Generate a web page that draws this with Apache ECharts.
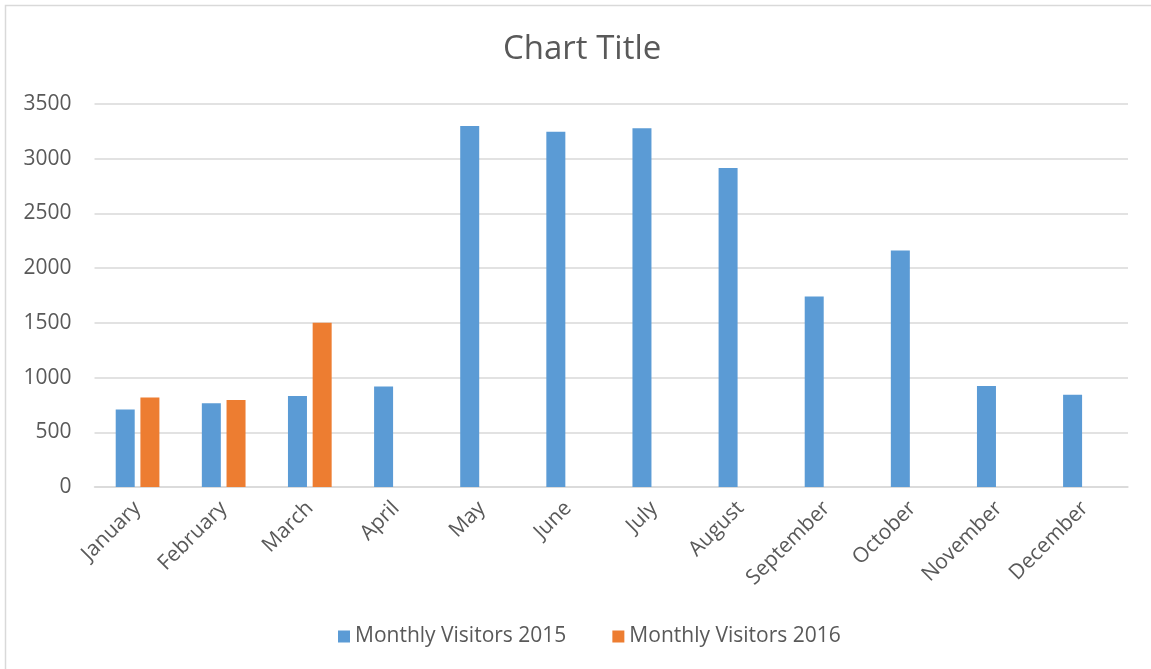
<!DOCTYPE html>
<html>
<head>
<meta charset="utf-8">
<title>Chart Title</title>
<script src="https://cdn.jsdelivr.net/npm/echarts@6/dist/echarts.min.js"></script>
<style>
  html, body { margin: 0; padding: 0; background: #fff; }
  #chart { width: 1151px; height: 669px; }
</style>
</head>
<body>
<div id="chart"></div>
<script>
// months on the x axis
var months = ['January', 'February', 'March', 'April', 'May', 'June',
  'July', 'August', 'September', 'October', 'November', 'December'];
// visitors per month
var visitors2015 = [708, 766, 832, 918, 3300, 3247, 3278, 2915, 1741, 2162, 924, 842];
var visitors2016 = [818, 794, 1500, null, null, null, null, null, null, null, null, null];
var yTicks = [0, 500, 1000, 1500, 2000, 2500, 3000, 3500];

var textColor = '#595959';
var gridColor = '#d9d9d9';
var font = '"Open Sans", "Noto Sans", sans-serif';

var chart = echarts.init(document.getElementById('chart'));
var option = {
  backgroundColor: '#fff',
  animation: false,
  title: {
    text: 'Chart Title',
    left: 498,
    top: 28,
    textStyle: { color: textColor, fontSize: 33, fontWeight: 'normal', fontFamily: font }
  },
  // frame of the chart area, only the top and left edges show
  graphic: [{
    type: 'polyline',
    shape: { points: [[5.5, 669], [5.5, 5.5], [1151, 5.5]] },
    style: { stroke: gridColor, lineWidth: 1.5, fill: null }
  }],
  legend: {
    bottom: 17,
    left: 333,
    itemWidth: 12,
    itemHeight: 12,
    itemGap: 46,
    icon: 'rect',
    textStyle: { color: textColor, fontSize: 21, fontFamily: font }
  },
  grid: { left: 94.5, right: 23, top: 104, bottom: 182 },
  xAxis: {
    type: 'category',
    data: months,
    axisLine: { lineStyle: { color: gridColor, width: 1.5 } },
    axisTick: { show: false },
    axisLabel: { rotate: 45, margin: 18, interval: 0, color: textColor, fontSize: 21, fontFamily: font }
  },
  yAxis: {
    type: 'value',
    min: yTicks[0],
    max: yTicks[yTicks.length - 1],
    interval: 500,
    axisLine: { show: false },
    axisTick: { show: false },
    splitLine: { lineStyle: { color: gridColor, width: 1.5 } },
    axisLabel: {
      margin: 23, color: textColor, fontSize: 21, fontFamily: font,
      formatter: function (v) { return String(v); }
    }
  },
  series: [{
    name: 'Monthly Visitors 2015',
    type: 'bar',
    data: visitors2015,
    barWidth: 19,
    barGap: '30%',
    itemStyle: { color: '#5b9bd5' }
  }, {
    name: 'Monthly Visitors 2016',
    type: 'bar',
    data: visitors2016,
    barWidth: 19,
    barGap: '30%',
    itemStyle: { color: '#ed7d31' }
  }]
};
chart.setOption(option);
</script>
</body>
</html>
